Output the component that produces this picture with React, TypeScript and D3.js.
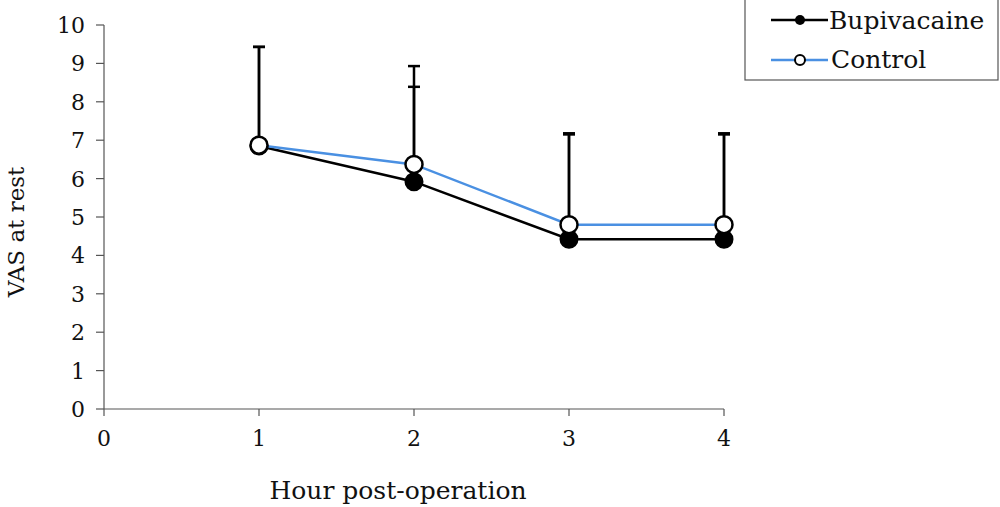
import React from "react";
import * as d3 from "d3";

const hours = [1, 2, 3, 4];
const bupivacaine = [6.85, 5.92, 4.42, 4.42];
const control = [6.87, 6.37, 4.8, 4.8];
const bupiUpper = [9.43, 8.39, 7.15, 7.15];
const controlUpper = [9.43, 8.93, 7.18, 7.18];
const xTicks = [0, 1, 2, 3, 4];
const yTicks = [0, 1, 2, 3, 4, 5, 6, 7, 8, 9, 10];

const FONT = "'DejaVu Serif', serif";

export default function App() {
  const x = d3.scaleLinear().domain([0, 4]).range([104, 724]);
  const y = d3.scaleLinear().domain([0, 10]).range([409, 25]);
  const line = d3.line<number>().x((_, i) => x(hours[i])).y((d) => y(d));
  const axisColor = "#555";

  const errBars = (means: number[], uppers: number[], key: string) =>
    hours.map((h, i) => (
      <g key={key + i}>
        <line x1={x(h)} x2={x(h)} y1={y(means[i])} y2={y(uppers[i])} stroke="#000" strokeWidth={2.5} />
        <line x1={x(h) - 6} x2={x(h) + 6} y1={y(uppers[i])} y2={y(uppers[i])} stroke="#000" strokeWidth={2.5} />
      </g>
    ));

  return (
    <svg width={1000} height={507} style={{ position: "absolute", left: 0, top: 0 }}>
      <rect width={1000} height={507} fill="#fff" />
      <line x1={104} x2={104} y1={y(10)} y2={y(0)} stroke={axisColor} strokeWidth={1.2} />
      <line x1={104} x2={724} y1={y(0)} y2={y(0)} stroke={axisColor} strokeWidth={1.2} />
      {yTicks.map((t) => (
        <g key={"y" + t}>
          <line x1={96} x2={104} y1={y(t)} y2={y(t)} stroke={axisColor} strokeWidth={1.2} />
          <text x={85} y={y(t)} dy="0.36em" textAnchor="end" fontFamily={FONT} fontSize={22} fill="#111">
            {t}
          </text>
        </g>
      ))}
      {xTicks.map((t) => (
        <g key={"x" + t}>
          <line x1={x(t)} x2={x(t)} y1={y(0)} y2={y(0) + 7} stroke={axisColor} strokeWidth={1.2} />
          <text x={x(t)} y={446} textAnchor="middle" fontFamily={FONT} fontSize={22} fill="#111">
            {t}
          </text>
        </g>
      ))}
      <text x={398} y={499} textAnchor="middle" fontFamily={FONT} fontSize={25} fill="#111">
        Hour post-operation
      </text>
      <text
        transform={`translate(24,232) rotate(-90)`}
        textAnchor="middle"
        fontFamily={FONT}
        fontSize={23}
        fill="#111"
      >
        VAS at rest
      </text>

      {errBars(bupivacaine, bupiUpper, "be")}
      {errBars(control, controlUpper, "ce")}

      <path d={line(bupivacaine) || ""} fill="none" stroke="#000" strokeWidth={2.5} />
      <path d={line(control) || ""} fill="none" stroke="#4a90e2" strokeWidth={2.5} />

      {bupivacaine.map((v, i) => (
        <circle key={"b" + i} cx={x(hours[i])} cy={y(v)} r={8.5} fill="#000" stroke="#000" strokeWidth={2} />
      ))}
      {control.map((v, i) => (
        <circle key={"c" + i} cx={x(hours[i])} cy={y(v)} r={8.5} fill="#fff" stroke="#000" strokeWidth={2.5} />
      ))}

      <rect x={745} y={-1} width={253} height={81} fill="#fff" stroke="#555" strokeWidth={1.2} />
      <line x1={771} x2={828} y1={20} y2={20} stroke="#000" strokeWidth={2.5} />
      <circle cx={800} cy={20} r={5} fill="#000" />
      <text x={829} y={29} fontFamily={FONT} fontSize={25} fill="#111">
        Bupivacaine
      </text>
      <line x1={771} x2={828} y1={60} y2={60} stroke="#4a90e2" strokeWidth={2.5} />
      <circle cx={800} cy={60} r={5} fill="#fff" stroke="#000" strokeWidth={2} />
      <text x={831} y={68} fontFamily={FONT} fontSize={25} fill="#111">
        Control
      </text>
    </svg>
  );
}
